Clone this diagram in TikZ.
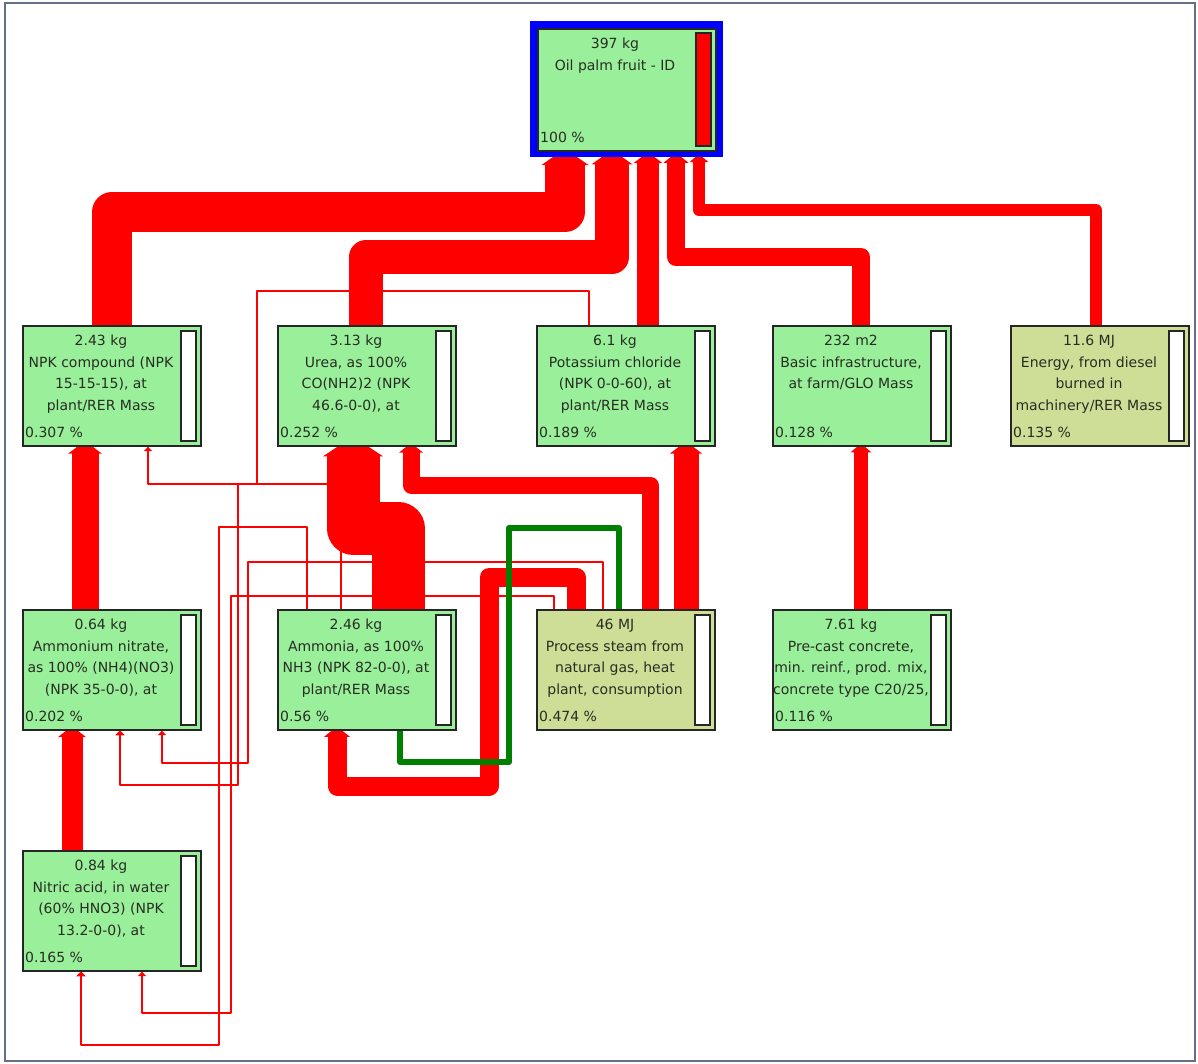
\documentclass[tikz,border=0pt]{standalone}
\usepackage{fontspec}
\setmainfont{DejaVu Sans}
\usetikzlibrary{calc}
\definecolor{boxgreen}{RGB}{154,240,154}
\definecolor{boxolive}{RGB}{207,222,150}
\definecolor{flowred}{RGB}{255,0,0}
\definecolor{neggreen}{RGB}{0,128,0}
\definecolor{txt}{RGB}{40,45,35}
\definecolor{framec}{RGB}{100,112,135}
\newcommand\proc[6]{%
  \node[box, fill=#4] (#1) at (#2,#3) {};
  \node[barbox] (#1-bar) at ($(#1.north east)+(-5,5)$) {};
  \node[lbl] (#1-lbl) at ($(#1.north)+(-11,5.3)$) {\strut #5};
  \node[pct] (#1-pct) at ($(#1.south west)+(3,-9.5)$) {#6};
}
\newcommand\atip[3]{%
  \coordinate (tp) at (#1.south -| #2,0);
  \fill[flowred] ($(tp)+({-(#3/2+3.5)},{4+0.1*#3})$) -- ($(tp)+({-0.3*#3},0)$) -- ($(tp)+({0.3*#3},0)$) -- ($(tp)+({#3/2+3.5},{4+0.1*#3})$) -- cycle;
}
\begin{document}
\begin{tikzpicture}[x=1pt,y=-1pt,
  box/.style={draw=black!85, line width=1.6pt, minimum width=178.4pt, minimum height=120.4pt, inner sep=0pt, anchor=north west},
  barbox/.style={draw=black!85, line width=1.6pt, fill=white, minimum width=15.4pt, minimum height=110.4pt, inner sep=0pt, anchor=north east},
  lbl/.style={font=\fontsize{14}{21.5}\selectfont, text=txt, align=center, inner sep=0pt, anchor=north},
  pct/.style={font=\fontsize{14}{15}\selectfont, text=txt, inner sep=0pt, anchor=base west},
  flow/.style={draw=flowred, line width=#1pt, line join=round, shorten >=4pt+0.1*#1pt-0.6pt},
  neg/.style={draw=neggreen, line width=6pt, line join=round},
]
\useasboundingbox (0,0) rectangle (1198,1063);
\draw[framec, line width=1.5pt] (5,3) rectangle (1195,1061);

% top node
\node[draw=blue, line width=6.5pt, minimum width=186.5pt, minimum height=129.5pt, inner sep=0pt, anchor=north west] (top) at (530,21) {};
\node[box, fill=boxgreen, minimum height=122.4pt] (topin) at (537,28) {};
\node[barbox, fill=flowred, minimum height=113.4pt] (top-bar) at ($(topin.north east)+(-5,4)$) {};
\node[lbl] (top-lbl) at ($(topin.north)+(-12,5.3)$) {\strut 397 kg\\Oil palm fruit - ID};
\node[pct] (top-pct) at ($(topin.south west)+(3,-9.5)$) {100 \%};

% row 2
\proc{npk}{22}{325}{boxgreen}{2.43 kg\\NPK compound (NPK\\15-15-15), at\\plant/RER Mass}{0.307 \%}
\proc{urea}{277}{325}{boxgreen}{3.13 kg\\Urea, as 100\%\\CO(NH2)2 (NPK\\46.6-0-0), at}{0.252 \%}
\proc{kcl}{536}{325}{boxgreen}{6.1 kg\\Potassium chloride\\(NPK 0-0-60), at\\plant/RER Mass}{0.189 \%}
\proc{basic}{772}{325}{boxgreen}{232 m2\\Basic infrastructure,\\at farm/GLO Mass}{0.128 \%}
\proc{energy}{1010}{325}{boxolive}{11.6 MJ\\Energy, from diesel\\burned in\\machinery/RER Mass}{0.135 \%}
% row 3
\proc{an}{22}{609}{boxgreen}{0.64 kg\\Ammonium nitrate,\\as 100\% (NH4)(NO3)\\(NPK 35-0-0), at}{0.202 \%}
\proc{ammonia}{277}{609}{boxgreen}{2.46 kg\\Ammonia, as 100\%\\NH3 (NPK 82-0-0), at\\plant/RER Mass}{0.56 \%}
\proc{steam}{536}{609}{boxolive}{46 MJ\\Process steam from\\natural gas, heat\\plant, consumption}{0.474 \%}
\proc{concrete}{772}{609}{boxgreen}{7.61 kg\\Pre-cast concrete,\\min. reinf., prod. mix,\\concrete type C20/25,}{0.116 \%}
% row 4
\proc{nitric}{22}{850}{boxgreen}{0.84 kg\\Nitric acid, in water\\(60\% HNO3) (NPK\\13.2-0-0), at}{0.165 \%}

% thick flows
\draw[flow=40] (npk.north -| 112,0) |- (565,212) -- (top.south -| 565,0);
\draw[flow=34] (urea.north -| 366,0) |- (612,257) -- (top.south -| 612,0);
\draw[flow=22] (kcl.north -| 648,0) -- (top.south -| 648,0);
\draw[flow=18] (basic.north -| 861,0) |- (676,257) -- (top.south -| 676,0);
\draw[flow=12] (energy.north -| 1096,0) |- (699,210) -- (top.south -| 699,0);
\draw[flow=27] (an.north -| 85,0) -- (npk.south -| 85,0);
\draw[flow=53] (ammonia.north -| 398,0) |- (353,528) -- (urea.south -| 353,0);
\draw[flow=17] (steam.north -| 650,0) |- (411,485) -- (urea.south -| 411,0);
\draw[flow=25] (steam.north -| 686,0) -- (kcl.south -| 686,0);
\draw[flow=14] (concrete.north -| 861,0) -- (basic.south -| 861,0);
\draw[flow=21] (nitric.north -| 72,0) -- (an.south -| 72,0);
\draw[flow=19] (steam.north -| 576,0) |- (489,577) |- (337,786) -- (ammonia.south -| 337,0);
% thin flows
\draw[flow=1.2] (kcl.north -| 589,0) |- (257,291) |- (148,484) -- (npk.south -| 148,0);
\draw[flow=2.4] (ammonia.north -| 341,0) |- (238,484) |- (120,785) -- (an.south -| 120,0);
\draw[flow=1.3] (steam.north -| 603,0) |- (248,562) |- (162,763) -- (an.south -| 162,0);
\draw[flow=2.4] (ammonia.north -| 307,0) |- (219,527) |- (81,1045) -- (nitric.south -| 81,0);
\draw[flow=1.3] (steam.north -| 554,0) |- (231,596) |- (142,1013) -- (nitric.south -| 142,0);
% negative flow
\draw[neg] (ammonia.south -| 400,0) |- (509,762) |- (619,528) -- (steam.north -| 619,0);

% arrow tips
\atip{top}{565}{40}
\atip{top}{612}{34}
\atip{top}{648}{22}
\atip{top}{676}{18}
\atip{top}{699}{12}
\atip{npk}{85}{27}
\atip{urea}{353}{53}
\atip{urea}{411}{17}
\atip{kcl}{686}{25}
\atip{basic}{861}{14}
\atip{an}{72}{21}
\atip{ammonia}{337}{19}
\atip{npk}{148}{1.2}
\atip{an}{120}{2.4}
\atip{an}{162}{1.3}
\atip{nitric}{81}{2.4}
\atip{nitric}{142}{1.3}
\end{tikzpicture}
\end{document}
